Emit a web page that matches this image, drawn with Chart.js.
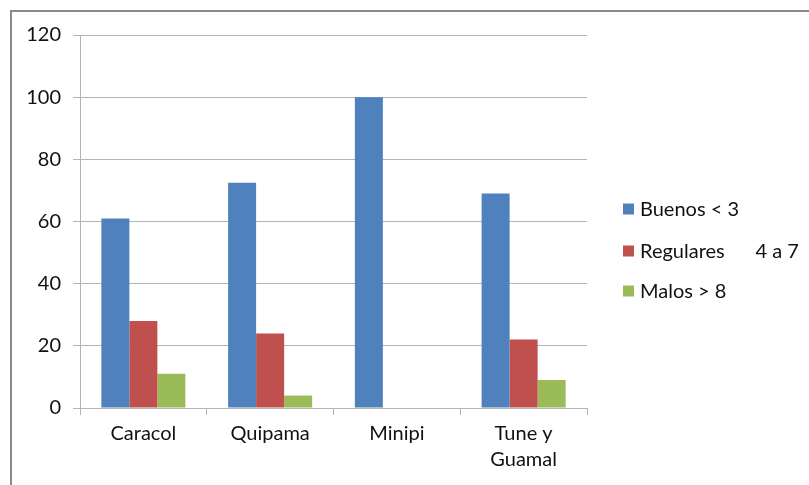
<!DOCTYPE html>
<html>
<head>
<meta charset="utf-8">
<script src="https://cdn.jsdelivr.net/npm/chart.js@4/dist/chart.umd.min.js"></script>
<style>
  html, body { margin: 0; padding: 0; background: #ffffff; }
  #wrap { position: relative; width: 809px; height: 485px; }
</style>
</head>
<body>
<div id="wrap"><canvas id="c" width="809" height="485"></canvas></div>
<script>
// Sites surveyed
const categories = ['Caracol', 'Quipama', 'Minipi', ['Tune y', 'Guamal']];

// Percentage of cases per rating class
const buenos = [61, 72.5, 100, 69];
const regulares = [28, 24, 0, 22];
const malos = [11, 4, 0, 9];

const seriesNames = ['Buenos < 3', 'Regulares      4 a 7', 'Malos > 8'];
const seriesColors = ['#4F81BD', '#C0504D', '#9BBB59'];

const yTicks = [0, 20, 40, 60, 80, 100, 120];

const FONT = 'Lato, "Open Sans", sans-serif';
const TEXT = '#111111';
const GRID = '#b4b4b4';

// Outer frame plus a legend listed down the right side
const framePlugin = {
  id: 'frameAndLegend',
  afterDraw(chart) {
    const ctx = chart.ctx;
    ctx.save();
    ctx.strokeStyle = '#8a8a8a';
    ctx.lineWidth = 2;
    ctx.beginPath();
    ctx.moveTo(11, 485);
    ctx.lineTo(11, 11);
    ctx.lineTo(809, 11);
    ctx.stroke();

    const rows = [209, 251, 291];
    ctx.font = '20px ' + FONT;
    ctx.textBaseline = 'middle';
    ctx.textAlign = 'left';
    chart.data.datasets.forEach((ds, i) => {
      ctx.fillStyle = ds.backgroundColor;
      ctx.fillRect(623, rows[i] - 5.5, 11, 11);
      ctx.fillStyle = TEXT;
      ctx.fillText(ds.label, 640, rows[i] + 1);
    });
    ctx.restore();
  }
};

new Chart(document.getElementById('c'), {
  type: 'bar',
  data: {
    labels: categories,
    datasets: [
      { label: seriesNames[0], data: buenos, backgroundColor: seriesColors[0] },
      { label: seriesNames[1], data: regulares, backgroundColor: seriesColors[1] },
      { label: seriesNames[2], data: malos, backgroundColor: seriesColors[2] }
    ]
  },
  options: {
    responsive: false,
    animation: false,
    devicePixelRatio: 1,
    layout: { padding: { left: 0, right: 222, top: 35, bottom: 0 } },
    datasets: { bar: { categoryPercentage: 0.663, barPercentage: 1.0, borderWidth: 0 } },
    plugins: {
      legend: { display: false },
      tooltip: { enabled: false }
    },
    scales: {
      x: {
        grid: {
          display: true,
          drawOnChartArea: false,
          drawTicks: true,
          tickLength: 7,
          color: GRID,
          offset: true
        },
        border: { display: true, color: GRID, width: 1 },
        ticks: {
          color: TEXT,
          font: { family: FONT, size: 20, lineHeight: 1.3 },
          padding: 6,
          maxRotation: 0,
          autoSkip: false
        },
        afterFit(scale) { scale.height = 77; }
      },
      y: {
        min: 0,
        max: 120,
        afterBuildTicks(scale) { scale.ticks = yTicks.map(v => ({ value: v })); },
        grid: {
          color: GRID,
          lineWidth: 1,
          drawTicks: true,
          tickLength: 7
        },
        border: { display: true, color: GRID, width: 1 },
        ticks: {
          color: TEXT,
          font: { family: FONT, size: 20 },
          padding: 12
        },
        afterFit(scale) { scale.width = 80; }
      }
    }
  },
  plugins: [framePlugin]
});
</script>
</body>
</html>
